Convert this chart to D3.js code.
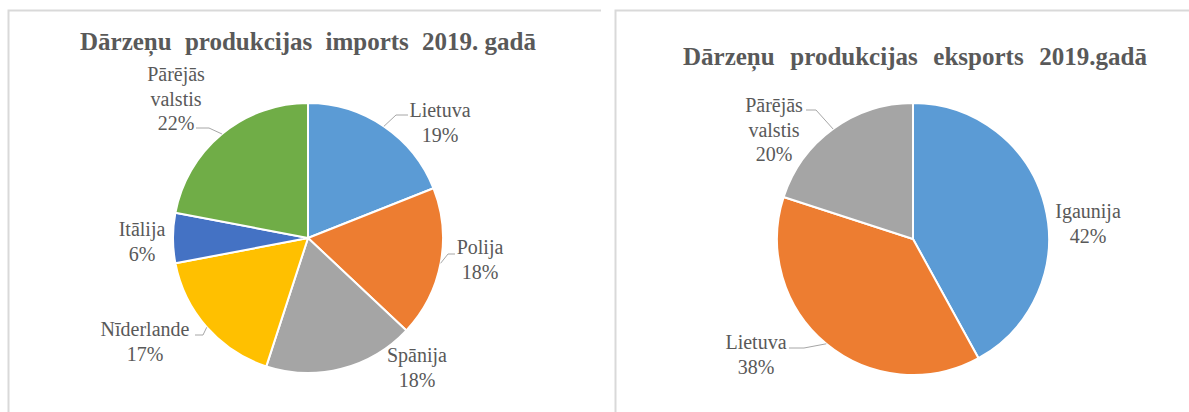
<!DOCTYPE html>
<html>
<head>
<meta charset="utf-8">
<script src="https://cdn.jsdelivr.net/npm/d3@7/dist/d3.min.js"></script>
<style>
  body { margin: 0; background: #fff; }
</style>
</head>
<body>
<div id="chart"></div>
<script>
// importa dati
const importCountries = ['Lietuva', 'Polija', 'Spānija', 'Nīderlande', 'Itālija', 'Pārējās valstis'];
const importShares = [19, 18, 18, 17, 6, 22];
const importColors = ['#5B9BD5', '#ED7D31', '#A5A5A5', '#FFC000', '#4472C4', '#70AD47'];
// eksporta dati
const exportCountries = ['Igaunija', 'Lietuva', 'Pārējās valstis'];
const exportShares = [42, 38, 20];
const exportColors = ['#5B9BD5', '#ED7D31', '#A5A5A5'];

// virsraksti (pēdējā daļa ar šauru atstarpi)
const importTitle = ['Dārzeņu produkcijas imports 2019.', ' gadā'];
const exportTitle = ['Dārzeņu produkcijas eksports 2019.gadā', ''];

// etiķešu novietojums (attiecībā pret centru)
const importLabelPos = [[132, -121], [172, 16], [109, 124], [-163, 98], [-166, -2], [-132, -157]];
const importLeaders = [[[88, -123], [100, -123]], [[140, 16], [147, 16]], null, [[-105, 97], [-113, 97]], null, [[-99, -110], [-112, -110]]];
const exportLabelPos = [[175, -21], [-157, 110], [-139, -127]];
const exportLeaders = [null, [[-109, 109], [-124, 109]], [[-97, -129], [-107, -129]]];

const FONT = 'Liberation Serif';
const width = 1189, height = 412;
const svg = d3.select('#chart').append('svg')
  .attr('width', width).attr('height', height);

svg.append('rect').attr('width', width).attr('height', height).attr('fill', '#fff');

// rāmji
svg.append('path').attr('d', 'M8.5,413V10.5H601')
  .attr('fill', 'none').attr('stroke', '#d9d9d9').attr('stroke-width', 2);
svg.append('path').attr('d', 'M615.5,413V10.5H1189')
  .attr('fill', 'none').attr('stroke', '#d9d9d9').attr('stroke-width', 2);

function drawPie(opt) {
  const g = svg.append('g').attr('transform', `translate(${opt.cx},${opt.cy})`);
  const total = d3.sum(opt.values);
  const pie = d3.pie().sort(null).value(d => d)(opt.values);
  const arc = d3.arc().innerRadius(0).outerRadius(opt.r);
  const fmt = d3.format('.0%');

  g.selectAll('path.slice')
    .data(pie)
    .enter().append('path')
    .attr('class', 'slice')
    .attr('d', arc)
    .attr('fill', (d, i) => opt.colors[i])
    .attr('stroke', '#fff')
    .attr('stroke-width', 2)
    .attr('stroke-linejoin', 'round');

  // līnijas uz etiķetēm
  pie.forEach((d, i) => {
    const ld = opt.leaders[i];
    if (!ld) return;
    const a = (d.startAngle + d.endAngle) / 2;
    const p0 = [opt.r * Math.sin(a), -opt.r * Math.cos(a)];
    g.append('path')
      .attr('d', d3.line()([p0, ld[0], ld[1]]))
      .attr('fill', 'none')
      .attr('stroke', '#a6a6a6')
      .attr('stroke-width', 1);
  });

  // etiķetes
  const lab = g.selectAll('text.lab')
    .data(pie)
    .enter().append('text')
    .attr('class', 'lab')
    .attr('text-anchor', 'middle')
    .attr('font-family', FONT)
    .attr('font-size', 20)
    .attr('fill', '#595959')
    .attr('transform', (d, i) => `translate(${opt.labelPos[i][0]},${opt.labelPos[i][1]})`);

  lab.each(function (d, i) {
    const lines = opt.names[i].split(' ').concat([fmt(d.value / total)]);
    const t = d3.select(this);
    lines.forEach((s, k) => {
      t.append('tspan').attr('x', 0).attr('y', k * 24.5).text(s);
    });
  });

  // virsraksts, vārdu atstarpes pielāgotas platumam
  const title = svg.append('text')
    .attr('x', opt.titleX)
    .attr('y', opt.titleY)
    .attr('text-anchor', 'middle')
    .attr('font-family', FONT)
    .attr('font-size', 25)
    .attr('font-weight', 'bold')
    .attr('fill', '#595959');
  const wide = title.append('tspan').text(opt.title[0]);
  if (opt.title[1]) title.append('tspan').style('word-spacing', '0px').text(opt.title[1]);
  const natural = title.node().getComputedTextLength();
  const nSp = opt.title[0].split(' ').length - 1;
  const ws = Math.max(0, (opt.titleW - natural) / nSp);
  wide.style('word-spacing', ws + 'px');
}

drawPie({
  cx: 308, cy: 238, r: 135,
  values: importShares, names: importCountries, colors: importColors,
  labelPos: importLabelPos, leaders: importLeaders,
  title: importTitle, titleX: 308, titleY: 50, titleW: 456
});

drawPie({
  cx: 913, cy: 239, r: 136,
  values: exportShares, names: exportCountries, colors: exportColors,
  labelPos: exportLabelPos, leaders: exportLeaders,
  title: exportTitle, titleX: 915, titleY: 65, titleW: 464
});
</script>
</body>
</html>
